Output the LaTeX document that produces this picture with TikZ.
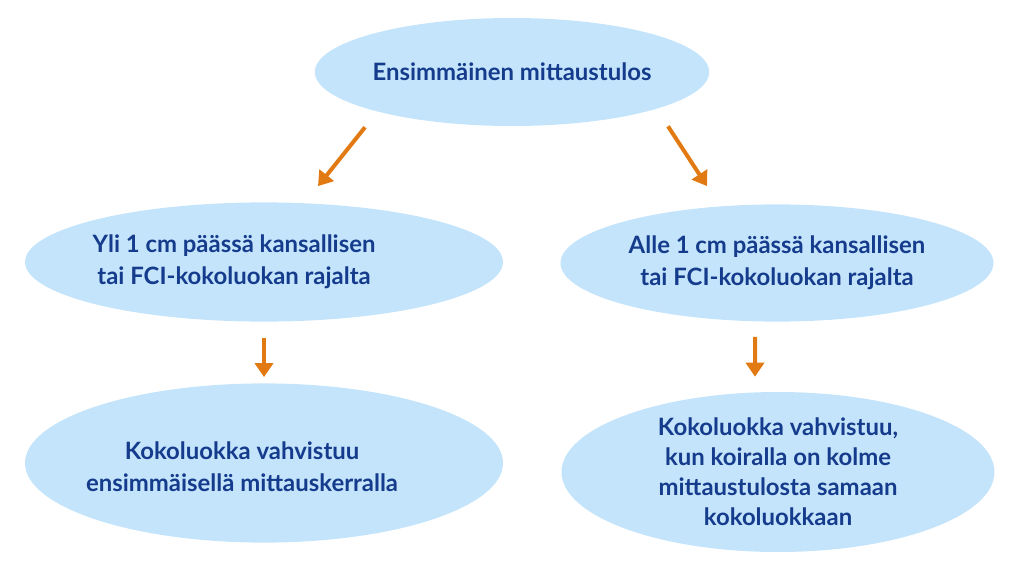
\documentclass[tikz,border=0pt]{standalone}
\usepackage{fontspec}
\setmainfont{Lato}
\usepackage{tikz}
\usetikzlibrary{arrows.meta, shapes.geometric, positioning}
\definecolor{bubblefill}{HTML}{C4E4FB}
\definecolor{bubbleink}{HTML}{153B8C}
\definecolor{flowcolor}{HTML}{E27A14}
\tikzstyle{words}=[font=\bfseries\fontsize{17}{23}\selectfont, text=bubbleink, align=center]
\tikzstyle{bubble}=[ellipse, fill=bubblefill, inner sep=0pt, words]
\tikzstyle{flow}=[-{Triangle[width=0.45cm, length=0.35cm]}, draw=flowcolor, line width=0.1cm]

\begin{document}
\begin{tikzpicture}
    \useasboundingbox (0,0) rectangle (25.6,-14.4);
    % First result:
    \node[bubble, minimum width=9.7cm, minimum height=2.7cm] (first) at (12.8,-1.8) {Ensimmäinen mittaustulos};

    % Far from the limit:
    \node[bubble, minimum width=11.95cm, minimum height=2.98cm, label={[words, xshift=-0.75cm]center:Yli 1 cm päässä kansallisen\\tai FCI-kokoluokan rajalta}] (far) at (6.6,-6.55) {};
    \node[bubble, minimum width=11.95cm, minimum height=3.98cm, label={[words, xshift=-0.55cm, yshift=-0.1cm]center:Kokoluokka vahvistuu\\ensimmäisellä mittauskerralla}] (farok) at (6.6,-11.575) {};

    % Near the limit:
    \node[bubble, minimum width=10.825cm, minimum height=2.93cm] (near) at (19.425,-6.575) {Alle 1 cm päässä kansallisen\\tai FCI-kokoluokan rajalta};
    \node[bubble, minimum width=10.825cm, minimum height=4cm, font=\bfseries\fontsize{17}{21.3}\selectfont] (nearok) at (19.45,-11.8) {Kokoluokka vahvistuu,\\kun koiralla on kolme\\mittaustulosta samaan\\kokoluokkaan};

    \draw[flow] ([xshift=-3.675cm, yshift=-0.025cm]first.south) -- ([xshift=1.35cm, yshift=0.4cm]far.north);
    \draw[flow] ([xshift=3.9cm]first.south) -- ([xshift=-1.75cm, yshift=0.45cm]near.north);
    \draw[flow] ([yshift=-0.4cm]far.south) -- ([yshift=0.15cm]farok.north);
    \draw[flow] ([xshift=-0.55cm, yshift=-0.375cm]near.south) -- ([xshift=-0.575cm, yshift=0.375cm]nearok.north);
\end{tikzpicture}
\end{document}
